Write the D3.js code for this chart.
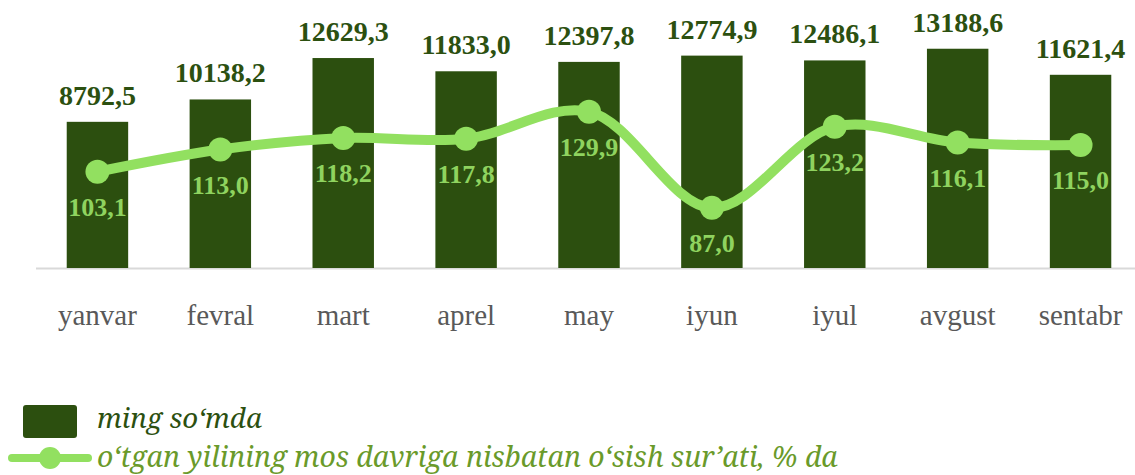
<!DOCTYPE html>
<html lang="en">
<head>
<meta charset="UTF-8">
<title>chart</title>
<script src="https://d3js.org/d3.v7.min.js"></script>
<style>
  body { margin: 0; background: #fff; }
  svg { display: block; }
  .serif { font-family: "Liberation Serif", serif; }
  .leg { font-family: "Noto Serif", "Liberation Serif", serif; font-style: italic; }
</style>
</head>
<body>
<div id="chart"></div>
<script>
// data
var months = ["yanvar", "fevral", "mart", "aprel", "may", "iyun", "iyul", "avgust", "sentabr"];
var amounts = [8792.5, 10138.2, 12629.3, 11833.0, 12397.8, 12774.9, 12486.1, 13188.6, 11621.4];
var growth = [103.1, 113.0, 118.2, 117.8, 129.9, 87.0, 123.2, 116.1, 115.0];
var legendLabels = ["ming so\u2018mda", "o\u2018tgan yilining mos davriga nisbatan o\u2018sish sur\u2019ati, % da"];

var width = 1135, height = 475;
var base = 268;

var svg = d3.select("#chart").append("svg")
    .attr("width", width)
    .attr("height", height);

var fmt = function(v) { return v.toFixed(1).replace(".", ","); };

var x = d3.scaleBand()
    .domain(months)
    .range([36, 1142])
    .paddingInner(0.5)
    .paddingOuter(0.25);

var cx = function(d, i) { return x(months[i]) + x.bandwidth() / 2; };

var y = d3.scaleLinear()
    .domain([0, 16000])
    .range([base, 2]);

var y2 = d3.scaleLinear()
    .domain([0, 140])
    .range([403, 89]);

// axis line
svg.append("line")
    .attr("x1", 36).attr("x2", width)
    .attr("y1", base + 0.5).attr("y2", base + 0.5)
    .attr("stroke", "#d9d9d9")
    .attr("stroke-width", 2);

// bars
svg.selectAll("rect.bar")
    .data(amounts)
    .enter().append("rect")
    .attr("class", "bar")
    .attr("x", function(d, i) { return x(months[i]); })
    .attr("width", x.bandwidth())
    .attr("y", function(d) { return y(d); })
    .attr("height", function(d) { return base - y(d); })
    .attr("fill", "#2c4f0f");

// bar labels
svg.selectAll("text.blab")
    .data(amounts)
    .enter().append("text")
    .attr("class", "blab serif")
    .attr("x", cx)
    .attr("y", function(d) { return y(d) - 17; })
    .attr("text-anchor", "middle")
    .style("font-weight", "bold")
    .style("font-size", "28px")
    .attr("fill", "#2c5010")
    .text(fmt);

// x labels
svg.selectAll("text.xlab")
    .data(months)
    .enter().append("text")
    .attr("class", "xlab serif")
    .attr("x", function(d) { return x(d) + x.bandwidth() / 2; })
    .attr("y", 325)
    .attr("text-anchor", "middle")
    .style("font-size", "29px")
    .attr("fill", "#595959")
    .text(function(d) { return d; });

// growth line
var lineColor = "#92e060";
var line = d3.line()
    .x(cx)
    .y(function(d) { return y2(d); })
    .curve(d3.curveCatmullRom.alpha(0.5));

svg.append("path")
    .datum(growth)
    .attr("d", line)
    .attr("fill", "none")
    .attr("stroke", lineColor)
    .attr("stroke-width", 10)
    .attr("stroke-linecap", "round");

svg.selectAll("circle.pt")
    .data(growth)
    .enter().append("circle")
    .attr("class", "pt")
    .attr("cx", cx)
    .attr("cy", function(d) { return y2(d); })
    .attr("r", 12)
    .attr("fill", lineColor);

svg.selectAll("text.llab")
    .data(growth)
    .enter().append("text")
    .attr("class", "llab serif")
    .attr("x", cx)
    .attr("y", function(d) { return y2(d) + 44; })
    .attr("text-anchor", "middle")
    .style("font-weight", "bold")
    .style("font-size", "26px")
    .attr("fill", "#8fd35f")
    .text(fmt);

// legend
var lg = svg.append("g");
lg.append("rect")
    .attr("x", 23).attr("y", 405)
    .attr("width", 54).attr("height", 33)
    .attr("rx", 3)
    .attr("fill", "#2c4f0f");

lg.append("line")
    .attr("x1", 12).attr("x2", 88)
    .attr("y1", 458).attr("y2", 458)
    .attr("stroke", lineColor)
    .attr("stroke-width", 8)
    .attr("stroke-linecap", "round");
lg.append("circle")
    .attr("cx", 50).attr("cy", 458)
    .attr("r", 11)
    .attr("fill", lineColor);

// legend texts, font size fitted to the widths seen in the picture
var legRows = [
  {text: legendLabels[0], y: 428, w: 165, color: "#2c5010"},
  {text: legendLabels[1], y: 467, w: 741, color: "#6a9a2a"}
];
legRows.forEach(function(r) {
  var t = lg.append("text")
      .attr("class", "leg")
      .attr("x", 97).attr("y", r.y)
      .style("font-size", "24px")
      .attr("fill", r.color)
      .text(r.text);
  var len = t.node().getComputedTextLength();
  if (len > 0) t.style("font-size", (24 * r.w / len).toFixed(2) + "px");
});
</script>
</body>
</html>
